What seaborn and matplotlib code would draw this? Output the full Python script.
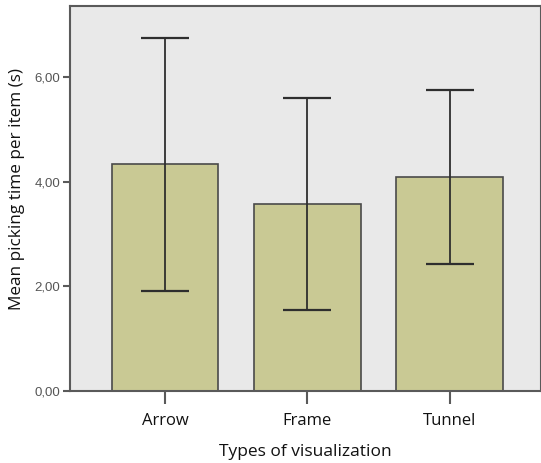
import matplotlib
matplotlib.use("Agg")
import matplotlib.pyplot as plt
import seaborn as sns
import numpy as np
import pandas as pd
from matplotlib.ticker import FuncFormatter

# ── Data ──────────────────────────────────────────────────────────────────────
categories = ["Arrow", "Frame", "Tunnel"]
means      = [4.34, 3.58, 4.10]
ci_upper   = [6.75, 5.61, 5.75]
ci_lower   = [1.92, 1.54, 2.43]
y_ticks    = [0, 2, 4, 6]

BAR_COLOR = "#c9c994"
BG_COLOR  = "#e9e9e9"
EDGE      = "#4a4a4a"

sns.set_theme(style="white")
plt.rcParams["font.family"] = ["Open Sans", "DejaVu Sans"]

df = pd.DataFrame({"Type": categories, "Mean": means})

fig = plt.figure(figsize=(5.41, 4.63), dpi=100)
ax = fig.add_axes([70 / 541, 1 - 391 / 463, 1 - 70 / 541, (391 - 6) / 463])
ax.set_facecolor(BG_COLOR)

sns.barplot(data=df, x="Type", y="Mean", color=BAR_COLOR, width=0.75,
            edgecolor=EDGE, linewidth=1.2, saturation=1, errorbar=None, ax=ax)

x = np.arange(len(categories))
m = np.array(means)
yerr = [m - np.array(ci_lower), np.array(ci_upper) - m]
ax.errorbar(x, m, yerr=yerr, fmt="none", ecolor="#2e2e2e", elinewidth=1.3,
            capsize=17, capthick=1.6, zorder=5)

ax.set_xlim(-0.667, 2.64)
ax.set_ylim(0, 7.36)
ax.set_yticks(y_ticks)
ax.yaxis.set_major_formatter(FuncFormatter(lambda v, p: f"{v:.2f}".replace(".", ",")))

for s in ax.spines.values():
    s.set_color("#5a5a5a")
    s.set_linewidth(1.5)

ax.tick_params(axis="y", which="both", left=True, length=5, width=1.5, color="#5a5a5a",
               labelsize=9.5, labelcolor="#555555", pad=2)
ax.tick_params(axis="x", which="both", bottom=True, length=9, width=1.5, color="#5a5a5a",
               labelsize=12, labelcolor="#111111", pad=7)
for lbl in ax.get_yticklabels():
    lbl.set_family(["Liberation Sans", "DejaVu Sans"])

ax.set_xlabel("Types of visualization", fontsize=12.5, color="#111111", labelpad=11)
ax.set_ylabel("Mean picking time per item (s)", fontsize=12.3, color="#111111", labelpad=12)
ax.yaxis.set_label_coords(-0.095, 0.525)

fig.savefig("out.png", dpi=100, facecolor="white")
